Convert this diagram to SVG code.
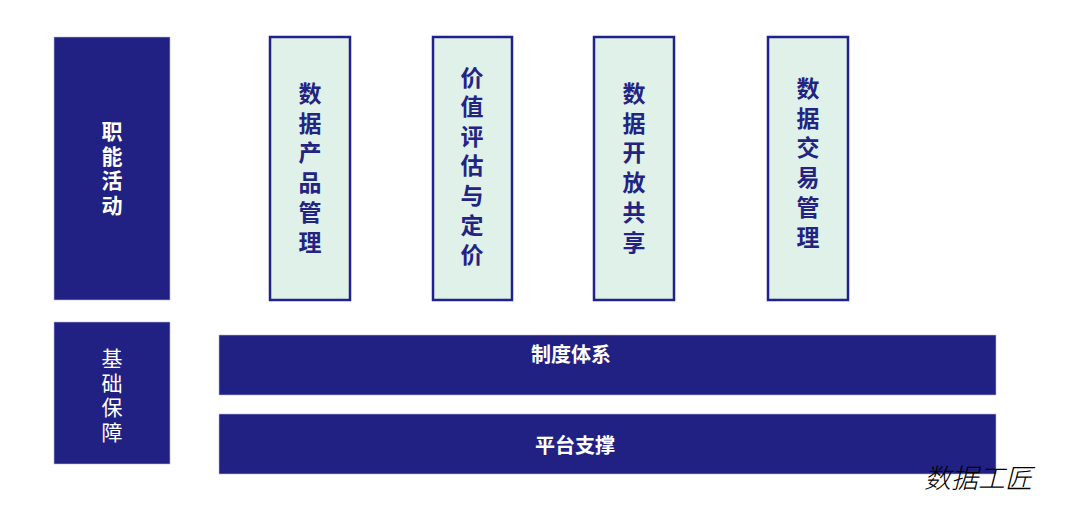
<svg xmlns="http://www.w3.org/2000/svg" width="1080" height="511" viewBox="0 0 1080 511">
<style>
.dark{fill:#212183;stroke:#b8b8e0;stroke-width:0.6}
.green{fill:#dff1e8;stroke:#21218c;stroke-width:2.5}
.cjk{font-family:"Noto Sans CJK SC","Noto Sans CJK JP",sans-serif;text-anchor:middle}
.vt{writing-mode:vertical-rl}
.wt{fill:#ffffff;font-size:21px;font-weight:bold;letter-spacing:3.7px}
.bt{fill:#232383;font-size:23px;font-weight:bold;letter-spacing:6.8px}
.bar{fill:#ffffff;font-size:20px;font-weight:bold;dominant-baseline:central}
</style>
<rect width="1080" height="511" fill="#ffffff"/>
<g id="zhineng">
<rect class="dark" x="54" y="37" width="116" height="263"/>
<text class="cjk vt wt" x="112" y="170">职能活动</text>
</g>
<g id="jichu">
<rect class="dark" x="54" y="322" width="116" height="142"/>
<text class="cjk vt wt" style="font-weight:normal" x="112" y="397">基础保障</text>
</g>
<g id="chanpin">
<rect class="green" x="270" y="37" width="80" height="263"/>
<text class="cjk vt bt" x="310" y="171">数据产品管理</text>
</g>
<g id="jiazhi">
<rect class="green" x="433" y="37" width="79" height="263"/>
<text class="cjk vt bt" x="472" y="169" style="letter-spacing:6.6px">价值评估与定价</text>
</g>
<g id="kaifang">
<rect class="green" x="594" y="37" width="80" height="263"/>
<text class="cjk vt bt" x="634" y="171">数据开放共享</text>
</g>
<g id="jiaoyi">
<rect class="green" x="768" y="37" width="80" height="263"/>
<text class="cjk vt bt" x="808" y="166">数据交易管理</text>
</g>
<g id="zhidu">
<rect class="dark" x="219" y="335" width="777" height="60"/>
<text class="cjk bar" x="571" y="353">制度体系</text>
</g>
<g id="pingtai">
<rect class="dark" x="219" y="414" width="777" height="60"/>
<text class="cjk bar" x="575" y="444">平台支撑</text>
</g>
<g id="connectors"></g>
<text x="978" y="476" font-family="Noto Sans CJK SC,sans-serif" font-size="27" font-style="italic" font-weight="300" fill="#000000" text-anchor="middle" dominant-baseline="central">数据工匠</text>
</svg>
